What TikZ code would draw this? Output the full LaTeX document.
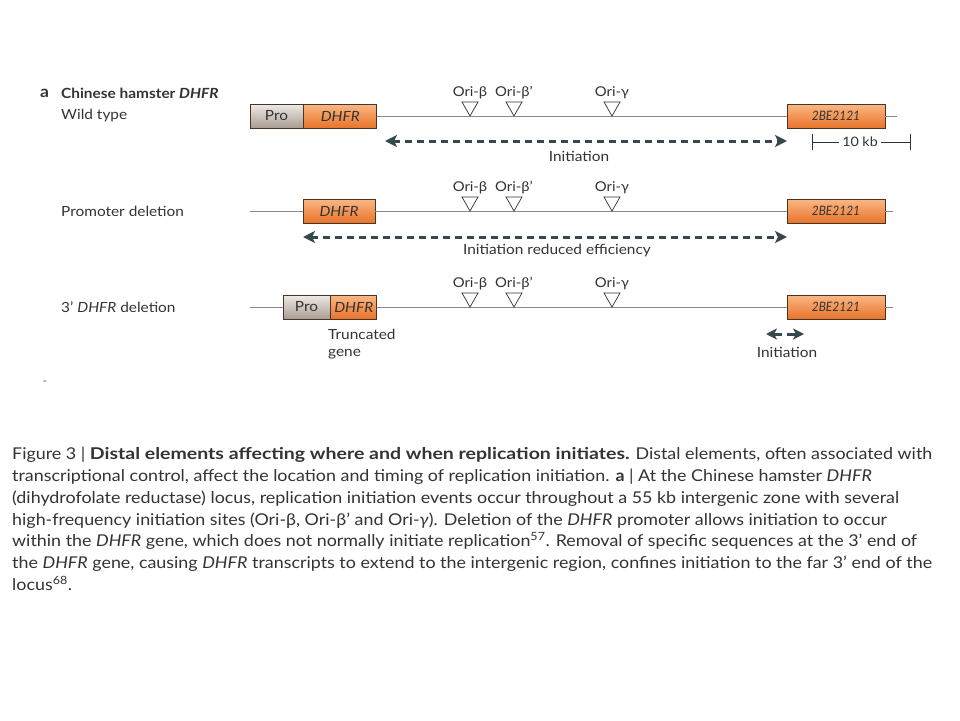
\documentclass[tikz,border=0pt]{standalone}
\usepackage{fontspec}
\setmainfont{Lato}[FakeStretch=1.1]
\newfontfamily\condfont{Lato}[FakeStretch=0.92]
\newfontfamily\widefont{Lato}[FakeStretch=1.2]
\usetikzlibrary{arrows.meta,
                positioning
            }

\definecolor{txtgray}{HTML}{333333}
\definecolor{boxline}{HTML}{4A3426}
\definecolor{orangetop}{HTML}{FBB884}
\definecolor{orangebot}{HTML}{E8732A}
\definecolor{protop}{HTML}{EEEAE6}
\definecolor{probot}{HTML}{A99D93}
\definecolor{initblue}{HTML}{37474F}
\definecolor{dnagray}{HTML}{8A8A8A}

\tikzset{
    lbl/.style={text=txtgray, inner sep=0pt, font=\fontsize{14}{16}\selectfont},
    genebox/.style={draw=boxline, line width=0.8pt, top color=orangetop, bottom color=orangebot,
                    minimum height=24pt, inner sep=0pt, text=txtgray,
                    font=\itshape\fontsize{14}{14}\selectfont},
    probox/.style={genebox, top color=protop, bottom color=probot, font=\fontsize{14}{14}\selectfont},
    farbox/.style={genebox, minimum width=98pt, font=\condfont\itshape\fontsize{13}{13}\selectfont},
    backbone/.style={draw=dnagray, line width=1pt},
    orimark/.style={draw=txtgray, fill=white, line width=0.7pt, line join=miter},
    orilabel/.style={lbl, font=\fontsize{13.5}{13.5}\selectfont},
    initarrow/.style={draw=initblue, line width=3pt, dash pattern=on 7pt off 5pt,
                      {Stealth[length=12pt, width=12pt, inset=3pt]}-{Stealth[length=12pt, width=12pt, inset=3pt]}},
    shortarrow/.style={draw=initblue, line width=3pt,
                      -{Stealth[length=11pt, width=11pt, inset=3pt]}},
    scalebar/.style={draw=txtgray, line width=0.8pt}
}

\begin{document}
\begin{tikzpicture}[x=1pt, y=-1pt]
            \useasboundingbox[fill=white] (0,0) rectangle (960,720);

            % headings
            \node[lbl, anchor=west, font=\bfseries\fontsize{16}{16}\selectfont] (tag) at (40,93) {a};
            \node[lbl, anchor=west, font=\bfseries\fontsize{14}{16}\selectfont] (title) at (61,93) {Chinese hamster \textit{DHFR}};
            \node[lbl, anchor=west] (nameA) at (61,116) {Wild type};
            \node[lbl, anchor=west] (nameB) at (61,211) {Promoter deletion};
            \node[lbl, anchor=west] (nameC) at (61,307) {3’ \textit{DHFR} deletion};

            % wild type
            \coordinate (endA) at (897,116);
            \node[probox, minimum width=53pt] (proA) at (276.5,116) {Pro};
            \node[genebox, minimum width=73pt, right=0pt of proA] (dhfrA) {DHFR};
            \node[farbox] (geneA) at (836,116) {2BE2121};
            \draw[backbone] (dhfrA.east) -- (geneA.west) (geneA.east) -- (endA);

            % promoter deletion
            \coordinate (startB) at (250,211);
            \coordinate (endB) at (893,211);
            \node[genebox, minimum width=72pt] (dhfrB) at (339,211) {DHFR};
            \node[farbox] (geneB) at (836,211) {2BE2121};
            \draw[backbone] (startB) -- (dhfrB.west) (dhfrB.east) -- (geneB.west) (geneB.east) -- (endB);

            % 3' deletion
            \coordinate (startC) at (250,307);
            \coordinate (endC) at (893,307);
            \node[probox, minimum width=47pt] (proC) at (306.5,307) {Pro};
            \node[genebox, minimum width=46pt, right=0pt of proC] (dhfrC) {DHFR};
            \node[farbox] (geneC) at (836,307) {2BE2121};
            \draw[backbone] (startC) -- (proC.west) (dhfrC.east) -- (geneC.west) (geneC.east) -- (endC);

            % origins
            \foreach \r/\y in {A/116, B/211, C/307} {
                \foreach \n/\x/\t in {b/470/Ori-β, bp/514/Ori-β’, g/612/Ori-γ} {
                    \coordinate (ori\r\n) at (\x,\y);
                    \coordinate (top\r\n) at (\x,\y-14);
                    \draw[orimark] (ori\r\n) -- ++(-8,-14) -- ++(16,0) -- cycle;
                    \node[orilabel, above=3pt of top\r\n] (lbl\r\n) {\t};
                }
            }

            % initiation
            \coordinate (iniAl) at (385,141);
            \coordinate (iniAr) at (787,141);
            \draw[initarrow] (iniAl) -- (iniAr);
            \node[lbl] (iniA) at (579,156) {Initiation};

            \coordinate (iniBl) at (303,237);
            \coordinate (iniBr) at (787,237);
            \draw[initarrow] (iniBl) -- (iniBr);
            \node[lbl] (iniB) at (557,251) {Initiation reduced efficiency};

            \coordinate (iniCm) at (785,334);
            \coordinate (iniCl) at (766,334);
            \coordinate (iniCr) at (804,334);
            \draw[shortarrow] ([xshift=-3pt]iniCm) -- (iniCl);
            \draw[shortarrow] ([xshift=2pt]iniCm) -- (iniCr);
            \node[lbl] (iniC) at (787,352) {Initiation};

            \node[lbl, anchor=north west, align=left, font=\fontsize{14}{17}\selectfont] (trunc) at (328,329) {Truncated\\gene};

            % scale bar
            \coordinate (sbL) at (812,142);
            \coordinate (sbR) at (910,142);
            \node[lbl, font=\fontsize{13}{13}\selectfont, fill=white, inner xsep=3pt] (kb) at (860,142) {10 kb};
            \draw[scalebar] (sbL) -- (kb.west) (kb.east) -- (sbR);
            \draw[scalebar] ([yshift=-8]sbL) -- ([yshift=8]sbL);
            \draw[scalebar] ([yshift=-8]sbR) -- ([yshift=8]sbR);

            \node[lbl, font=\fontsize{10}{10}\selectfont] (dash) at (45,383) {-};

            % caption
            \node[lbl, anchor=north west, align=left, font=\fontsize{16.25}{21.8}\selectfont] (caption) at (12,447) {%
                Figure 3 | {\widefont\bfseries Distal elements affecting where and when replication initiates.} Distal elements, often associated with\\
                transcriptional control, affect the location and timing of replication initiation. \textbf{a} | At the Chinese hamster \textit{DHFR}\\
                (dihydrofolate reductase) locus, replication initiation events occur throughout a 55 kb intergenic zone with several\\
                high-frequency initiation sites (Ori-β, Ori-β’ and Ori-\textit{γ}). Deletion of the \textit{DHFR} promoter allows initiation to occur\\
                within the \textit{DHFR} gene, which does not normally initiate replication\textsuperscript{57}. Removal of specific sequences at the 3’ end of\\
                the \textit{DHFR} gene, causing \textit{DHFR} transcripts to extend to the intergenic region, confines initiation to the far 3’ end of the\\
                locus\textsuperscript{68}.};
        \end{tikzpicture}
\end{document}
